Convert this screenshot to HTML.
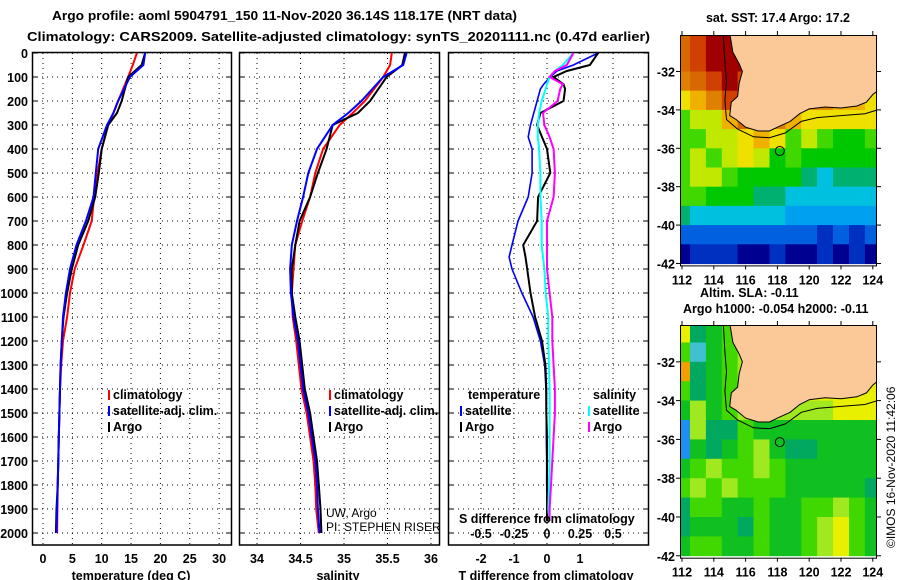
<!DOCTYPE html>
<html><head><meta charset="utf-8"><style>
html,body{margin:0;padding:0;background:#fff;}
svg{display:block;font-family:"Liberation Sans",Arial,sans-serif;}
.b{font-weight:bold;font-size:12.5px;}
</style></head><body>
<svg id="c" width="900" height="580" viewBox="0 0 900 580" xmlns="http://www.w3.org/2000/svg">
<text x="52" y="20" class="b" font-size="13.5" textLength="465" lengthAdjust="spacingAndGlyphs">Argo profile: aoml 5904791_150 11-Nov-2020 36.14S 118.17E (NRT data)</text>
<text x="27" y="41" class="b" font-size="13.5" textLength="623" lengthAdjust="spacingAndGlyphs">Climatology: CARS2009. Satellite-adjusted climatology: synTS_20201111.nc (0.47d earlier)</text>
<text x="778" y="22" class="b" text-anchor="middle">sat. SST: 17.4 Argo: 17.2</text>
<text x="700" y="297" class="b">Altim. SLA: -0.11</text>
<text x="683" y="313" class="b">Argo h1000: -0.054 h2000: -0.11</text>
<text transform="translate(895,548) rotate(-90)" font-size="12">©IMOS 16-Nov-2020 11:42:06</text>
<g id="g"></g>
</svg>
<script>
// ---------- data ----------
const depthT = [0,50,100,200,250,300,400,500,600,700,800,900,1000,1100,1200,1300,1400,1500,1600,1700,1800,1900,2000];
const tempClim = [16,15.3,14.5,12.8,12,11.1,10,9.3,8.7,8.3,6.9,5.4,4.6,4.1,3.4,3.1,2.9,2.8,2.7,2.6,2.5,2.45,2.4];
const tempSat  = [17.4,17.1,14.8,12.8,12,10.9,9.4,9.0,8.6,7.3,5.7,4.6,3.9,3.4,3.2,3.0,2.9,2.8,2.7,2.6,2.5,2.4,2.3];
const tempArgo = [17.4,16.8,14.5,13.4,12.6,11.1,10,9.5,8.9,7.7,6.0,4.9,4.1,3.5,3.2,3.0,2.9,2.8,2.7,2.6,2.5,2.3,2.2];
const salClim = [35.55,35.53,35.45,35.24,35.1,34.95,34.76,34.67,34.61,34.52,34.44,34.42,34.4,34.41,34.45,34.48,34.51,34.57,34.61,34.65,34.67,34.68,34.71];
const salSat  = [35.72,35.68,35.45,35.2,35.05,34.87,34.69,34.59,34.53,34.46,34.4,34.38,34.39,34.42,34.47,34.5,34.53,34.59,34.63,34.67,34.69,34.7,34.72];
const salArgo = [35.70,35.67,35.49,35.3,35.16,34.87,34.8,34.7,34.61,34.49,34.44,34.4,34.4,34.44,34.49,34.52,34.55,34.61,34.65,34.69,34.71,34.73,34.74];
const depthD = [0,50,75,100,130,150,200,250,300,350,400,500,600,700,800,850,900,1000,1100,1200,1300,1400,1500,1600,1700,1800,1900,1950];
const dTArgo = [1.55,1.3,0.6,0.2,0.5,0.55,0.5,-0.2,-0.3,-0.15,0,0.1,-0.27,-0.3,-0.72,-0.65,-0.6,-0.5,-0.36,-0.15,-0.05,-0.02,-0.02,0,0,0,0,0];
const dTSat  = [1.55,0.8,0.3,0.1,-0.1,-0.2,-0.3,-0.4,-0.5,-0.57,-0.45,-0.45,-0.57,-0.88,-1.06,-1.15,-1.06,-0.76,-0.42,-0.2,-0.07,-0.03,-0.02,-0.02,-0.01,-0.01,0,0];
const dSSat  = [0.2,0.12,0.06,0.02,0,-0.01,-0.04,-0.06,-0.07,-0.07,-0.06,-0.05,-0.05,-0.04,-0.04,-0.03,-0.02,-0.01,0.01,0.01,0.015,0.02,0.02,0.02,0.02,0.015,0.01,0.02];
const dSArgo = [0.2,0.15,0.06,0.02,0.12,0.1,0.08,-0.03,-0.02,0.02,0.05,0.06,0.05,0,0,0,0,0.02,0.04,0.04,0.05,0.06,0.06,0.05,0.04,0.03,0.02,0.02];
const depthTicks = [0,100,200,300,400,500,600,700,800,900,1000,1100,1200,1300,1400,1500,1600,1700,1800,1900,2000];
const tempTicks = [0,5,10,15,20,25,30];
const salTicks = [34,34.5,35,35.5,36];
const salTickLabels = ["34","34.5","35","35.5","36"];
const dTTicks = [-2,-1,0,1,2];
const dTTickLabels = ["-2","-1","0","1",""];
const dSTicks = [-0.5,-0.25,0,0.25,0.5];
const dSTickLabels = ["-0.5","-0.25","0","0.25","0.5"];
const mapLons = [112,113,114,115,116,117,118,119,120,121,122,123,124];
const mapLats = [-30,-31,-32,-33,-34,-35,-36,-37,-38,-39,-40,-41];
const lonTicks = [112,114,116,118,120,122,124];
const latTicks = [-32,-34,-36,-38,-40,-42];
const sst = [
[19.5,20.5,21.5,21.5,21,21,21,21,21,21,21,21,21],
[19.5,20,21,21.5,21,21,21,21,21,21,21,21,21],
[19,19.5,20,21,20.5,20,20,20,20,20,20,20,20],
[18,18.5,19,20,20.5,20,20,20,19,19,18.5,18.5,18],
[17,17.5,17.5,18.5,19.5,19.5,19,18.5,18.2,18,18,18,18],
[17,17.2,17.5,17.5,18,18.5,18,17.3,17.5,17,16.8,16.8,17],
[17,17.5,17,17.5,18,17.5,16.8,17,16.5,16.5,16.5,16.5,16.8],
[17.2,17.5,17.5,17.3,16.5,16.5,16.5,16.5,16,15.8,16,16,16.2],
[17,17,16.5,16.8,16.5,16.2,16,15.7,15.7,15.5,15.5,15.7,15.7],
[16.2,15.8,15.6,15.5,15.8,15.6,15.5,15.3,15.2,15.2,15.3,15.2,15.3],
[14.8,14.5,14.8,14.5,14.7,14.5,14.6,14.5,14.5,14.3,14.5,14.3,14.5],
[13.8,14,14,14,13.8,13.8,14,13.8,13.8,14,13.7,14,13.8]];
const sla = [
[0.05,-0.15,-0.1,-0.03,0,0,0,0,0,0,0,0,0],
[-0.05,-0.2,-0.1,-0.03,0,0,0,0,0,0,0,0,0],
[0.1,-0.15,-0.1,-0.03,0,0,0,0,0,0,0,0,0],
[-0.05,-0.15,-0.1,-0.03,-0.03,0,0,0,0.05,0.05,0.05,0.05,0.08],
[-0.1,0.0,-0.1,-0.05,0,0,0,0,0.03,0.03,0.05,0.05,0.06],
[-0.25,0.02,-0.12,-0.12,-0.02,-0.1,-0.1,-0.1,-0.1,-0.1,-0.1,-0.1,-0.1],
[-0.3,-0.08,-0.12,-0.1,-0.05,0,-0.08,-0.12,-0.13,-0.1,-0.1,-0.1,-0.08],
[-0.1,-0.05,0,-0.05,-0.05,0.02,-0.05,-0.1,-0.1,-0.1,-0.1,-0.1,-0.1],
[-0.02,0.02,-0.05,0,-0.05,-0.02,-0.05,-0.1,-0.1,-0.1,-0.1,-0.1,-0.12],
[-0.15,-0.05,-0.05,-0.08,-0.1,-0.05,-0.1,-0.1,-0.05,-0.02,0,-0.05,-0.1],
[-0.12,-0.1,-0.1,-0.1,-0.12,-0.05,-0.1,-0.1,-0.02,0.02,0.05,-0.05,-0.1],
[-0.08,-0.05,-0.05,-0.1,-0.1,-0.05,-0.08,-0.1,-0.05,0.03,0.05,-0.05,-0.08]];
const coast = [[115.0,-30],[115.2,-31],[115.6,-31.6],[115.8,-32],[115.6,-32.6],[115.5,-33.3],[115.1,-33.6],[115.0,-34.3],[115.4,-34.5],[116,-34.9],[116.8,-35.1],[117.5,-35.1],[118,-34.9],[118.8,-34.6],[119.4,-34.2],[120,-33.95],[121,-33.85],[122,-33.9],[123,-33.8],[123.6,-33.6],[124,-33.2],[124.3,-33],[124.3,-30]];
const isobath = [[114.6,-30],[114.7,-31.5],[114.8,-32.5],[114.7,-33.5],[114.8,-34.5],[115.5,-35],[116.5,-35.4],[117.5,-35.45],[118.5,-35.2],[119.5,-34.6],[120.5,-34.4],[122,-34.3],[123.5,-34.2],[124.3,-34]];
const argoPos = [118.15,-36.14];

// ---------- drawing ----------
const NS="http://www.w3.org/2000/svg", G=document.getElementById('g');
function el(t,a,p){const e=document.createElementNS(NS,t);for(const k in a)e.setAttribute(k,a[k]);(p||G).appendChild(e);return e;}
function txt(x,y,s,a,p){const e=el('text',Object.assign({x:x,y:y},a||{}),p);e.textContent=s;return e;}
const Y0=53, Y1=545, yD=d=>53+d*0.24;
const panels=[
 {x0:32,x1:231,name:'temperature-panel',sx:v=>43+v*5.87},
 {x0:239,x1:439,name:'salinity-panel',sx:v=>257+(v-34)*87},
 {x0:448,x1:648,name:'difference-panel',sx:v=>547+v*33}];
const sxS=v=>547+v*132;
const gridX=[tempTicks.map(panels[0].sx),salTicks.map(panels[1].sx),dTTicks.map(panels[2].sx)];
panels.forEach((p,i)=>{
  const g=el('g',{});
  
  
  depthTicks.forEach(d=>{const l=el('line',{x1:p.x0,x2:p.x1,y1:yD(d),y2:yD(d),stroke:'#000','stroke-width':1,'stroke-dasharray':'1 4'},g);
    el('line',{x1:p.x0,x2:p.x0+5,y1:yD(d),y2:yD(d),stroke:'#000'},g);el('line',{x1:p.x1-5,x2:p.x1,y1:yD(d),y2:yD(d),stroke:'#000'},g);});
  gridX[i].forEach(x=>{const l=el('line',{x1:x,x2:x,y1:Y0,y2:Y1,stroke:'#000','stroke-dasharray':'1 4'},g);});
  const r=el('rect',{x:p.x0+0.5,y:Y0-0.5,width:p.x1-p.x0,height:Y1-Y0+0.5,fill:'none',stroke:'#000','stroke-width':1.5},g);
  
});
depthTicks.forEach(d=>{const t=txt(28,yD(d)+5,String(d),{class:'b','text-anchor':'end'});});
function series(xs,ds,sx,col,name,w){
  const pts=ds.map((d,i)=>sx(xs[i]).toFixed(1)+','+yD(d).toFixed(1)).join(' ');
  const l=el('polyline',{points:pts,fill:'none',stroke:col,'stroke-width':w||2,'stroke-linejoin':'miter'});
  
}
series(tempClim,depthT,panels[0].sx,'#f00','temp-climatology-line');
series(tempArgo,depthT,panels[0].sx,'#000','temp-argo-line');
series(tempSat,depthT,panels[0].sx,'#00f','temp-satellite-line');
series(salClim,depthT,panels[1].sx,'#f00','salinity-climatology-line');
series(salArgo,depthT,panels[1].sx,'#000','salinity-argo-line');
series(salSat,depthT,panels[1].sx,'#00f','salinity-satellite-line');
series(dTSat,depthD,panels[2].sx,'#00f','tdiff-satellite-line',1.6);
series(dTArgo,depthD,panels[2].sx,'#000','tdiff-argo-line',2);
series(dSSat,depthD,sxS,'#0ff','sdiff-satellite-line',2);
series(dSArgo,depthD,sxS,'#f0f','sdiff-argo-line',2);
tempTicks.forEach(v=>{const t=txt(panels[0].sx(v),563,String(v),{class:'b','text-anchor':'middle'});});
salTicks.forEach((v,i)=>{const t=txt(panels[1].sx(v),563,salTickLabels[i],{class:'b','text-anchor':'middle'});});
dTTicks.forEach((v,i)=>{const t=txt(panels[2].sx(v),563,dTTickLabels[i],{class:'b','text-anchor':'middle'});});
dSTicks.forEach((v,i)=>{const t=txt(sxS(v),538,dSTickLabels[i],{class:'b','text-anchor':'middle'});});
[[131,'temperature (deg C)','temp-axis-title'],[338,'salinity','salinity-axis-title'],[546,'T difference from climatology','tdiff-axis-title']].forEach(a=>{const t=txt(a[0],580,a[1],{class:'b','text-anchor':'middle'});});
{const t=txt(459,523,'S difference from climatology',{class:'b'});}
{const t=txt(326,517,'UW, Argo',{'font-size':12});
 const u=txt(326,531,'PI: STEPHEN RISER',{'font-size':12});}
function leg(x,y,col,s,name){const g=el('g',{});
  el('rect',{x:x,y:y-9,width:2,height:10,fill:col},g);txt(x+5,y,s,{class:'b'},g);}
[[108,'panel1'],[329,'panel2']].forEach(a=>{leg(a[0],399,'#f00','climatology',a[1]+'-legend-climatology');leg(a[0],415,'#00f','satellite-adj. clim.',a[1]+'-legend-satellite');leg(a[0],431,'#000','Argo',a[1]+'-legend-argo');});
{const t=txt(468,399,'temperature',{class:'b'});
 const s=txt(593,399,'salinity',{class:'b'});}
leg(460,415,'#00f','satellite','legend-tdiff-satellite');leg(460,431,'#000','Argo','legend-tdiff-argo');
leg(588,415,'#0ff','satellite','legend-sdiff-satellite');leg(588,431,'#f0f','Argo','legend-sdiff-argo');

// maps
const sstStops=[[13.6,'#000090'],[14,'#0030c0'],[14.5,'#0060e0'],[15,'#00a0f0'],[15.5,'#00c0e0'],[16,'#00b070'],[16.5,'#00c800'],[17,'#40d800'],[17.5,'#c0e800'],[18,'#f0e000'],[18.5,'#f0b000'],[19,'#e08000'],[19.5,'#d86800'],[20,'#d04000'],[21,'#a00000']];
const slaStops=[[-0.3,'#2090f0'],[-0.22,'#40c0d0'],[-0.15,'#00a860'],[-0.1,'#10c020'],[-0.05,'#40d800'],[0,'#a0e820'],[0.05,'#e8f000'],[0.1,'#f0a000']];
function cmap(stops,v){for(let i=stops.length-1;i>=0;i--)if(v>=stops[i][0])return stops[i][1];return stops[0][1];}
function drawMap(top,data,stops,name){
  const lx=l=>682+(l-112)*15.9, ly=l=>top+(-30.1-l)*19.2*(name==='sla-map'?1.01:1);
  const g=el('g',{});
  const clip=el('clipPath',{id:name+'-clip'},g);el('rect',{x:680,y:top,width:197,height:ly(-42.1)-top},clip);
  const cg=el('g',{'clip-path':'url(#'+name+'-clip)'},g);
  data.forEach((row,r)=>row.forEach((v,c)=>{
    const x=lx(mapLons[c]-0.5), y=ly(mapLats[r]);
    const rc=el('rect',{x:x.toFixed(1),y:y.toFixed(1),width:16.4,height:19.8,fill:cmap(stops,v)},cg);
    
  }));
  const land=el('polygon',{points:coast.map(p=>lx(p[0]).toFixed(1)+','+ly(p[1]).toFixed(1)).join(' '),fill:'#fbc898',stroke:'#000','stroke-width':1},cg);
  
  const iso=el('polyline',{points:isobath.map(p=>lx(p[0]).toFixed(1)+','+ly(p[1]).toFixed(1)).join(' '),fill:'none',stroke:'#000','stroke-width':1},cg);
  
  const ci=el('circle',{cx:lx(argoPos[0]),cy:ly(argoPos[1]),r:4.5,fill:'none',stroke:'#000','stroke-width':1},g);
  
  const bot=ly(-42.1);
  el('rect',{x:680.5,y:top+0.5,width:196,height:bot-top,fill:'none',stroke:'#000','stroke-width':1},g);
  lonTicks.forEach(l=>{el('line',{x1:lx(l),x2:lx(l),y1:bot,y2:bot+4,stroke:'#000'},g);el('line',{x1:lx(l),x2:lx(l),y1:top,y2:top-4,stroke:'#000'},g);
    const t=txt(lx(l),bot+19,String(l),{class:'b','text-anchor':'middle'},g);});
  latTicks.forEach(l=>{el('line',{x1:676,x2:680,y1:ly(l),y2:ly(l),stroke:'#000'},g);el('line',{x1:877,x2:881,y1:ly(l),y2:ly(l),stroke:'#000'},g);
    const t=txt(675,ly(l)+5,String(l),{class:'b','text-anchor':'end'},g);});
}
drawMap(35,sst,sstStops,'sst-map');
drawMap(325,sla,slaStops,'sla-map');
</script>
</body></html>
